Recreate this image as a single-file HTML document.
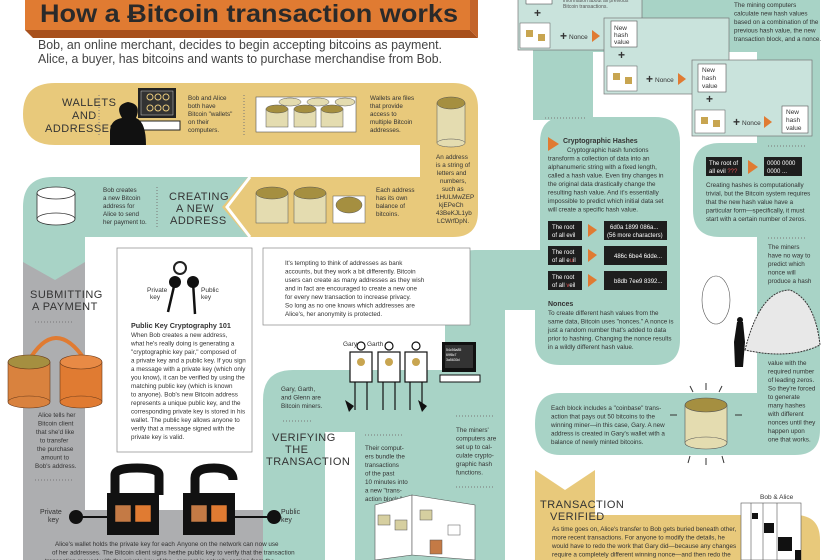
<!DOCTYPE html>
<html><head><meta charset="utf-8"><style>
html,body{margin:0;padding:0;background:#fff}
svg{display:block}
text{font-family:"Liberation Sans",sans-serif;fill:#333}
.s{font-size:6.3px}
.h{font-family:"Liberation Sans Narrow","Liberation Sans",sans-serif;font-size:11px;fill:#333;letter-spacing:0.5px}
.b{font-weight:bold}
.w{fill:#fff}
</style></head><body>
<svg width="840" height="560" viewBox="0 0 840 560" xmlns="http://www.w3.org/2000/svg">
<!-- Title -->
<rect x="25" y="-5" width="445" height="35" fill="#e07b32"/>
<polygon points="25,30 470,30 478,38 33,38" fill="#a8501c"/>
<polygon points="470,-5 478,0 478,38 470,30" fill="#c3642a"/>
<text x="40" y="22" font-size="25" font-weight="bold" textLength="418" lengthAdjust="spacingAndGlyphs" style="fill:#2a2a2a">How a Ƀitcoin transaction works</text>
<text x="38" y="49" font-size="13" textLength="404" lengthAdjust="spacingAndGlyphs" style="fill:#444">Bob, an online merchant, decides to begin accepting bitcoins as payment.</text>
<text x="38" y="63" font-size="13" textLength="404" lengthAdjust="spacingAndGlyphs" style="fill:#444">Alice, a buyer, has bitcoins and wants to purchase merchandise from Bob.</text>

<!-- Grey path -->
<rect x="23" y="237" width="62" height="323" fill="#adaeb0"/>
<path d="M23,510 H270 V495 L297,478 L325,495 V560 H23Z" fill="#adaeb0"/>
<!-- Teal creating -->
<path d="M53,177 H250 L227,207 L250,237 H85 V262 L55,280 L23,262 V207 Q23,177 53,177Z" fill="#a8d3c6"/>
<!-- Gold wallets -->
<path d="M55,83 H453 Q478,83 478,108 V212 Q478,237 453,237 H248 L222,207 L248,177 H420 V145 H55 Q23,145 23,114 Q23,83 55,83Z" fill="#e8c97b"/>
<polyline points="250,177 227,207 250,237" fill="none" stroke="#fff" stroke-width="3"/>

<!-- Teal big verifying/mining -->
<path d="M293,370 H445 V280 Q445,250 475,250 H540 V142 Q540,117 565,117 H655 Q680,117 680,142 V340 Q680,365 655,365 H560 Q535,365 535,340 V310 H505 V560 H355 V432 H325 V560 H263 V400 Q263,370 293,370Z" fill="#a8d3c6"/>
<rect x="533" y="0" width="60" height="120" fill="#a8d3c6"/>
<rect x="533" y="0" width="287" height="52" fill="#a8d3c6"/>
<path d="M757,0 H795 Q820,0 820,25 V430 Q820,455 795,455 H560 Q535,455 535,424 Q535,393 560,393 H757Z" fill="#a8d3c6"/>
<path d="M720,143 H757 V237 H720 Q693,237 693,210 V170 Q693,143 720,143Z" fill="#a8d3c6"/>
<!-- Gold verified -->
<path d="M535,470 L565,490 L595,470 V515 H795 Q820,515 820,540 V560 H535Z" fill="#e8c97b"/>
<polygon points="535,455 565,478 595,455 595,462 565,484 535,462" fill="#fff"/>

<!-- Wallet section -->
<text x="62" y="106" class="h">WALLETS</text>
<text x="72" y="119" class="h">AND</text>
<text x="45" y="132" class="h">ADDRESSES</text>
<line x1="99" y1="95" x2="99" y2="135" stroke="#777" stroke-dasharray="1,2"/>
<rect x="138" y="88" width="38" height="30" fill="#222"/><rect x="141" y="91" width="32" height="24" fill="#333" stroke="#ccc" stroke-width=".5"/>
<circle cx="150" cy="97" r="3" fill="none" stroke="#e8c97b"/><circle cx="158" cy="97" r="3" fill="none" stroke="#e8c97b"/><circle cx="166" cy="97" r="3" fill="none" stroke="#e8c97b"/>
<circle cx="150" cy="108" r="3" fill="none" stroke="#e8c97b"/><circle cx="158" cy="108" r="3" fill="none" stroke="#e8c97b"/><circle cx="166" cy="108" r="3" fill="none" stroke="#e8c97b"/>
<rect x="140" y="121" width="40" height="9" fill="#fff" stroke="#222"/>
<path d="M110,145 V132 Q110,120 122,118 Q114,105 128,102 Q142,104 136,118 Q146,122 146,145Z" fill="#111"/>
<text class="s" x="188" y="100">Bob and Alice</text><text class="s" x="188" y="108">both have</text><text class="s" x="188" y="116">Bitcoin "wallets"</text><text class="s" x="188" y="124">on their</text><text class="s" x="188" y="132">computers.</text>
<line x1="244" y1="95" x2="244" y2="135" stroke="#777" stroke-dasharray="1,2"/>
<rect x="256" y="97" width="100" height="35" fill="#fff" stroke="#555" stroke-width=".6"/>
<g fill="#e4dcb0" stroke="#555" stroke-width=".5">
<ellipse cx="290" cy="102" rx="11" ry="4"/><ellipse cx="318" cy="102" rx="11" ry="4"/><ellipse cx="345" cy="102" rx="10" ry="4"/>
<rect x="266" y="109" width="22" height="18"/><rect x="294" y="109" width="22" height="18"/><rect x="321" y="109" width="22" height="18"/>
<ellipse cx="277" cy="109" rx="11" ry="4" fill="#a58f40"/><ellipse cx="305" cy="109" rx="11" ry="4" fill="#a58f40"/><ellipse cx="332" cy="109" rx="11" ry="4" fill="#a58f40"/>
</g>
<text class="s" x="370" y="100">Wallets are files</text><text class="s" x="370" y="108">that provide</text><text class="s" x="370" y="116">access to</text><text class="s" x="370" y="124">multiple Bitcoin</text><text class="s" x="370" y="132">addresses.</text>
<g stroke="#555" stroke-width=".5"><rect x="437" y="103" width="28" height="40" fill="#e4dcb0"/><ellipse cx="451" cy="143" rx="14" ry="4" fill="#e4dcb0"/><ellipse cx="451" cy="103" rx="14" ry="6" fill="#a58f40"/></g>
<text class="s" x="436" y="159">An address</text><text class="s" x="436" y="167">is a string of</text><text class="s" x="437" y="175">letters and</text><text class="s" x="440" y="183">numbers,</text><text class="s" x="442" y="191">such as</text><text class="s" x="436" y="199">1HULMwZEP</text><text class="s" x="439" y="207">kjEPeCh</text><text class="s" x="436" y="215">43BeKJL1yb</text><text class="s" x="437" y="223">LCWrfDpN.</text>
<g fill="#e4dcb0" stroke="#555" stroke-width=".5">
<rect x="256" y="193" width="32" height="30"/><ellipse cx="272" cy="193" rx="16" ry="6" fill="#a58f40"/>
<rect x="294" y="193" width="32" height="30"/><ellipse cx="310" cy="193" rx="16" ry="6" fill="#a58f40"/>
<rect x="333" y="196" width="32" height="27" fill="#fff"/><ellipse cx="349" cy="205" rx="13" ry="8" fill="#a58f40"/></g>
<text class="s" x="376" y="192">Each address</text><text class="s" x="376" y="200">has its own</text><text class="s" x="376" y="208">balance of</text><text class="s" x="376" y="216">bitcoins.</text>
<!-- creating -->
<g stroke="#333" stroke-width=".8" fill="#fff"><rect x="37" y="193" width="38" height="26"/><ellipse cx="56" cy="193" rx="19" ry="6"/><ellipse cx="56" cy="219" rx="19" ry="6"/></g>
<text class="s" x="103" y="192">Bob creates</text><text class="s" x="103" y="200">a new Bitcoin</text><text class="s" x="103" y="208">address for</text><text class="s" x="103" y="216">Alice to send</text><text class="s" x="103" y="224">her payment to.</text>
<line x1="157" y1="187" x2="157" y2="227" stroke="#777" stroke-dasharray="1,2"/>
<text x="169" y="200" class="h">CREATING</text><text x="176" y="212" class="h">A NEW</text><text x="170" y="224" class="h">ADDRESS</text>

<!-- Public key box -->
<rect x="117" y="248" width="135" height="204" fill="#fff" stroke="#888" stroke-width=".7"/>
<circle cx="180" cy="268" r="6" fill="none" stroke="#222" stroke-width="2"/>
<circle cx="175" cy="282" r="6" fill="#111"/><circle cx="193" cy="282" r="6" fill="#111"/>
<line x1="175" y1="282" x2="168" y2="312" stroke="#111" stroke-width="2.5"/><line x1="193" y1="282" x2="195" y2="314" stroke="#111" stroke-width="2.5"/>
<text x="147" y="292" font-size="6.5">Private</text><text x="150" y="299" font-size="6.5">key</text>
<text x="201" y="292" font-size="6.5">Public</text><text x="201" y="299" font-size="6.5">key</text>
<text x="131" y="328" font-size="7.2" class="b">Public Key Cryptography 101</text>
<g class="s"><text x="131" y="337">When Bob creates a new address,</text><text x="131" y="345.5">what he's really doing is generating a</text><text x="131" y="354">"cryptographic key pair," composed of</text><text x="131" y="362.5">a private key and a public key. If you sign</text><text x="131" y="371">a message with a private key (which only</text><text x="131" y="379.5">you know), it can be verified by using the</text><text x="131" y="388">matching public key (which is known</text><text x="131" y="396.5">to anyone). Bob's new Bitcoin address</text><text x="131" y="405">represents a unique public key, and the</text><text x="131" y="413.5">corresponding private key is stored in his</text><text x="131" y="422">wallet. The public key allows anyone to</text><text x="131" y="430.5">verify that a message signed with the</text><text x="131" y="439">private key is valid.</text></g>
<!-- tempting box -->
<rect x="263" y="248" width="207" height="77" fill="#fff" stroke="#888" stroke-width=".7"/>
<g class="s"><text x="285" y="265">It's tempting to think of addresses as bank</text><text x="285" y="273.5">accounts, but they work a bit differently. Bitcoin</text><text x="285" y="282">users can create as many addresses as they wish</text><text x="285" y="290.5">and in fact are encouraged to create a new one</text><text x="285" y="299">for every new transaction to increase privacy.</text><text x="285" y="307.5">So long as no one knows which addresses are</text><text x="285" y="316">Alice's, her anonymity is protected.</text></g>

<!-- submitting -->
<text x="30" y="298" class="h">SUBMITTING</text><text x="32" y="310" class="h">A PAYMENT</text>
<line x1="35" y1="322" x2="73" y2="322" stroke="#777" stroke-dasharray="1,2"/>
<path d="M28,362 Q55,315 85,360" fill="none" stroke="#e07b32" stroke-width="4"/>
<g stroke="#6a3a1a" stroke-width=".6"><rect x="8" y="362" width="42" height="40" fill="#d9823e"/><ellipse cx="29" cy="402" rx="21" ry="6" fill="#d9823e"/><ellipse cx="29" cy="362" rx="21" ry="7" fill="#a58f40"/>
<rect x="60" y="362" width="42" height="40" fill="#e07b32"/><ellipse cx="81" cy="402" rx="21" ry="6" fill="#e07b32"/><ellipse cx="81" cy="362" rx="21" ry="7" fill="#e88a45"/></g>
<g class="s"><text x="38" y="417">Alice tells her</text><text x="38" y="425.5">Bitcoin client</text><text x="36" y="434">that she'd like</text><text x="40" y="442.5">to transfer</text><text x="37" y="451">the purchase</text><text x="41" y="459.5">amount to</text><text x="35" y="468">Bob's address.</text></g>
<line x1="35" y1="480" x2="73" y2="480" stroke="#777" stroke-dasharray="1,2"/>
<!-- locks -->
<path d="M115,495 V475 Q115,468 137,468 Q159,468 159,475 V495" fill="none" stroke="#111" stroke-width="9"/>
<rect x="107" y="493" width="52" height="42" fill="#111"/>
<path d="M195,495 V478 Q195,468 214,468 Q233,468 233,480" fill="none" stroke="#111" stroke-width="9"/>
<rect x="183" y="493" width="52" height="42" fill="#111"/>
<g stroke="#111" stroke-width=".5"><rect x="115" y="505" width="16" height="17" fill="#c47a45"/><rect x="135" y="505" width="16" height="17" fill="#e07b32"/><rect x="191" y="505" width="16" height="17" fill="#c47a45"/><rect x="211" y="505" width="16" height="17" fill="#e07b32"/></g>
<text x="40" y="514" font-size="7">Private</text><text x="48" y="522" font-size="7">key</text>
<circle cx="76" cy="517" r="7" fill="#111"/><line x1="76" y1="517" x2="107" y2="517" stroke="#111" stroke-width="2"/>
<circle cx="274" cy="517" r="7" fill="#111"/><line x1="235" y1="517" x2="274" y2="517" stroke="#111" stroke-width="2"/>
<text x="281" y="514" font-size="7">Public</text><text x="281" y="522" font-size="7">key</text>
<g class="s"><text x="55" y="546">Alice's wallet holds the private key for each</text><text x="52" y="554.5">of her addresses. The Bitcoin client signs her</text><text x="45" y="563">transaction request with the private key of the</text>
<text x="177" y="546">Anyone on the network can now use</text><text x="177" y="554.5">the public key to verify that the transaction</text><text x="177" y="563">request is actually coming from the</text></g>

<!-- verifying -->
<g class="s"><text x="281" y="391">Gary, Garth,</text><text x="281" y="399.5">and Glenn are</text><text x="281" y="408">Bitcoin miners.</text></g>
<line x1="283" y1="421" x2="313" y2="421" stroke="#777" stroke-dasharray="1,2"/>
<text x="272" y="441" class="h">VERIFYING</text><text x="285" y="453" class="h">THE</text><text x="266" y="465" class="h">TRANSACTION</text>
<g class="s"><text x="365" y="450">Their comput-</text><text x="365" y="458.5">ers bundle the</text><text x="365" y="467">transactions</text><text x="365" y="475.5">of the past</text><text x="365" y="484">10 minutes into</text><text x="365" y="492.5">a new "trans-</text><text x="365" y="501">action block."</text></g>
<line x1="365" y1="435" x2="402" y2="435" stroke="#777" stroke-dasharray="1,2"/>
<!-- miners -->
<g fill="#fff" stroke="#111" stroke-width="1.2">
<circle cx="361" cy="346" r="4"/><rect x="350" y="352" width="22" height="30"/><line x1="355" y1="382" x2="355" y2="410"/><line x1="367" y1="382" x2="367" y2="410"/>
<circle cx="389" cy="346" r="4"/><rect x="378" y="352" width="22" height="30"/><line x1="383" y1="382" x2="383" y2="410"/><line x1="395" y1="382" x2="395" y2="410"/>
<circle cx="416" cy="346" r="4"/><rect x="405" y="352" width="22" height="30"/><line x1="410" y1="382" x2="410" y2="410"/><line x1="422" y1="382" x2="422" y2="410"/></g>
<circle cx="361" cy="362" r="4" fill="#c8a550"/><circle cx="389" cy="362" r="4" fill="#c8a550"/><circle cx="416" cy="362" r="4" fill="#c8a550"/>
<text x="343" y="346" font-size="6.5">Gary</text><text x="367" y="346" font-size="6.5">Garth</text>
<path d="M345,400 l4,12 l5,-6Z M418,400 l4,12 l5,-6Z" fill="#111"/>
<rect x="442" y="342" width="34" height="30" fill="#111"/><rect x="445" y="345" width="28" height="23" fill="#333"/>
<text x="446" y="351" font-size="3.5" class="w">54c56a85</text><text x="446" y="356" font-size="3.5" class="w">69f8c7</text><text x="446" y="361" font-size="3.5" class="w">3a5630d</text>
<rect x="440" y="375" width="40" height="7" fill="#fff" stroke="#111"/>
<g class="s"><text x="456" y="432">The miners'</text><text x="456" y="440.5">computers are</text><text x="456" y="449">set up to cal-</text><text x="456" y="457.5">culate crypto-</text><text x="456" y="466">graphic hash</text><text x="456" y="474.5">functions.</text></g>
<line x1="456" y1="416" x2="495" y2="416" stroke="#777" stroke-dasharray="1,2"/>
<line x1="456" y1="487" x2="495" y2="487" stroke="#777" stroke-dasharray="1,2"/>
<g fill="#fff" stroke="#555" stroke-width=".6"><polygon points="375,505 412,495 412,555 375,560"/><polygon points="412,495 475,505 475,560 412,555"/></g>
<g stroke="#555" stroke-width=".5"><rect x="378" y="515" width="12" height="10" fill="#d6cfa0"/><rect x="395" y="520" width="12" height="10" fill="#d6cfa0"/><rect x="420" y="510" width="12" height="10" fill="#d6cfa0"/><rect x="430" y="540" width="12" height="14" fill="#c47a45"/><rect x="448" y="525" width="12" height="10" fill="#fff"/></g>

<!-- hash steps -->
<g fill="#c9e3dc" stroke="#777" stroke-width=".7">
<rect x="518" y="-2" width="124" height="52"/><rect x="604" y="18" width="125" height="76"/><rect x="692" y="60" width="120" height="76"/></g>
<rect x="526" y="-2" width="26" height="6" fill="#fff" stroke="#333" stroke-width=".5"/>
<text x="563" y="2" font-size="5" style="fill:#555">information about all previous</text><text x="563" y="8" font-size="5" style="fill:#555">Bitcoin transactions.</text>
<text x="534" y="17" font-size="12" class="b">+</text>
<g stroke="#555" stroke-width=".5" fill="#fff"><rect x="520" y="23" width="30" height="25"/><rect x="607" y="66" width="30" height="25"/><rect x="695" y="110" width="30" height="23"/></g>
<g fill="#c8a550"><rect x="526" y="30" width="7" height="7"/><rect x="538" y="34" width="7" height="7"/><rect x="613" y="73" width="7" height="7"/><rect x="625" y="77" width="7" height="7"/><rect x="701" y="117" width="7" height="7"/><rect x="713" y="120" width="7" height="7"/></g>
<text x="560" y="40" font-size="12" class="b">+</text><text x="569" y="39" font-size="6.5">Nonce</text><polygon points="592,30 600,36 592,42" fill="#e07b32"/>
<text x="646" y="83" font-size="12" class="b">+</text><text x="655" y="82" font-size="6.5">Nonce</text><polygon points="678,73 686,79 678,85" fill="#e07b32"/>
<text x="733" y="126" font-size="12" class="b">+</text><text x="742" y="125" font-size="6.5">Nonce</text><polygon points="764,116 772,122 764,128" fill="#e07b32"/>
<text x="618" y="59" font-size="12" class="b">+</text><text x="706" y="103" font-size="12" class="b">+</text>
<g fill="#fff" stroke="#555" stroke-width=".6"><rect x="611" y="21" width="26" height="26"/><rect x="698" y="64" width="28" height="28"/><rect x="782" y="106" width="26" height="27"/></g>
<g font-size="6.5"><text x="614" y="30">New</text><text x="614" y="37">hash</text><text x="614" y="44">value</text><text x="702" y="72">New</text><text x="702" y="80">hash</text><text x="702" y="88">value</text><text x="786" y="114">New</text><text x="786" y="122">hash</text><text x="786" y="130">value</text></g>
<g class="s"><text x="734" y="7">The mining computers</text><text x="734" y="15.5">calculate new hash values</text><text x="734" y="24">based on a combination of the</text><text x="734" y="32.5">previous hash value, the new</text><text x="734" y="41">transaction block, and a nonce.</text></g>

<!-- crypto hashes -->
<line x1="545" y1="118" x2="585" y2="118" stroke="#777" stroke-dasharray="1,2"/>
<polygon points="548,137 559,144 548,151" fill="#e07b32"/>
<text x="563" y="143" font-size="7" class="b">Cryptographic Hashes</text>
<g class="s"><text x="567" y="152">Cryptographic hash functions</text><text x="548" y="160.5">transform a collection of data into an</text><text x="548" y="169">alphanumeric string with a fixed length,</text><text x="548" y="177.5">called a hash value. Even tiny changes in</text><text x="548" y="186">the original data drastically change the</text><text x="548" y="194.5">resulting hash value. And it's essentially</text><text x="548" y="203">impossible to predict which initial data set</text><text x="548" y="211.5">will create a specific hash value.</text></g>
<g fill="#1e1e1e"><rect x="548" y="221" width="34" height="19"/><rect x="548" y="246" width="34" height="19"/><rect x="548" y="271" width="34" height="19"/>
<rect x="604" y="221" width="63" height="19"/><rect x="604" y="246" width="63" height="19"/><rect x="604" y="271" width="63" height="19"/></g>
<g font-size="6"><text x="552" y="229" class="w">The root</text><text x="552" y="237" class="w">of all evil</text><text x="552" y="254" class="w">The root</text><text x="552" y="262" class="w">of all e<tspan style="fill:#e05050">u</tspan>il</text><text x="552" y="279" class="w">The root</text><text x="552" y="287" class="w">of all <tspan style="fill:#e05050">v</tspan>eil</text>
<text x="610" y="229" class="w">6d0a 1899 086a...</text><text x="607" y="237" class="w">(56 more characters)</text><text x="614" y="258" class="w">486c 6be4 6dde...</text><text x="614" y="283" class="w">b8db 7ee9 8392...</text></g>
<g fill="#e07b32"><polygon points="588,224 597,230 588,237"/><polygon points="588,249 597,255 588,262"/><polygon points="588,274 597,280 588,287"/></g>
<text x="548" y="306" font-size="7" class="b">Nonces</text>
<g class="s"><text x="548" y="315">To create different hash values from the</text><text x="548" y="323.5">same data, Bitcoin uses "nonces." A nonce is</text><text x="548" y="332">just a random number that's added to data</text><text x="548" y="340.5">prior to hashing. Changing the nonce results</text><text x="548" y="349">in a wildly different hash value.</text></g>

<!-- right column -->
<line x1="768" y1="146" x2="806" y2="146" stroke="#777" stroke-dasharray="1,2"/>
<rect x="706" y="157" width="36" height="19" fill="#1e1e1e"/><text x="709" y="165" font-size="6" class="w">The root of</text><text x="709" y="173" font-size="6" class="w">all evil <tspan style="fill:#e05050">???</tspan></text>
<polygon points="748,160 758,167 748,174" fill="#e07b32"/>
<rect x="764" y="157" width="38" height="19" fill="#1e1e1e"/><text x="767" y="165" font-size="6" class="w">0000 0000</text><text x="767" y="173" font-size="6" class="w">0000 ...</text>
<g class="s"><text x="706" y="187">Creating hashes is computationally</text><text x="706" y="195.5">trivial, but the Bitcoin system requires</text><text x="706" y="204">that the new hash value have a</text><text x="706" y="212.5">particular form—specifically, it must</text><text x="706" y="221">start with a certain number of zeros.</text></g>
<line x1="768" y1="238" x2="806" y2="238" stroke="#777" stroke-dasharray="1,2"/>
<g class="s"><text x="768" y="249">The miners</text><text x="768" y="257.5">have no way to</text><text x="768" y="266">predict which</text><text x="768" y="274.5">nonce will</text><text x="768" y="283">produce a hash</text>
<text x="768" y="365">value with the</text><text x="768" y="373.5">required number</text><text x="768" y="382">of leading zeros.</text><text x="768" y="390.5">So they're forced</text><text x="768" y="399">to generate</text><text x="768" y="407.5">many hashes</text><text x="768" y="416">with different</text><text x="768" y="424.5">nonces until they</text><text x="768" y="433">happen upon</text><text x="768" y="441.5">one that works.</text></g>
<ellipse cx="716" cy="300" rx="14" ry="24" fill="#fff" stroke="#555" stroke-width=".6"/>
<path d="M745,350 Q760,290 790,290 Q815,300 820,345 Q790,360 745,350Z" fill="#e8e8e8" stroke="#333" stroke-dasharray="2,1"/>
<path d="M737,322 l6,0 l2,20 l-2,25 l-8,0 l-1,-25Z" fill="#111"/><circle cx="740" cy="320" r="3" fill="#111"/>
<!-- coinbase -->
<g class="s"><text x="551" y="410">Each block includes a "coinbase" trans-</text><text x="551" y="418.5">action that pays out 50 bitcoins to the</text><text x="551" y="427">winning miner—in this case, Gary. A new</text><text x="551" y="435.5">address is created in Gary's wallet with a</text><text x="551" y="444">balance of newly minted bitcoins.</text></g>
<g stroke="#555" stroke-width=".6"><rect x="685" y="405" width="42" height="38" fill="#e4dcb0"/><ellipse cx="706" cy="443" rx="21" ry="6" fill="#e4dcb0"/><ellipse cx="706" cy="405" rx="21" ry="7" fill="#a58f40"/></g>
<g stroke="#333" stroke-width="1"><line x1="706" y1="383" x2="706" y2="390"/><line x1="690" y1="386" x2="693" y2="392"/><line x1="722" y1="386" x2="719" y2="392"/><line x1="670" y1="415" x2="677" y2="415"/><line x1="735" y1="415" x2="742" y2="415"/><line x1="706" y1="458" x2="706" y2="465"/><line x1="690" y1="456" x2="688" y2="463"/><line x1="722" y1="456" x2="724" y2="463"/></g>
<!-- verified -->
<text x="540" y="508" class="h">TRANSACTION</text><text x="550" y="520" class="h">VERIFIED</text>
<g class="s"><text x="552" y="531">As time goes on, Alice's transfer to Bob gets buried beneath other,</text><text x="552" y="539.5">more recent transactions. For anyone to modify the details, he</text><text x="552" y="548">would have to redo the work that Gary did—because any changes</text><text x="552" y="556.5">require a completely different winning nonce—and then redo the</text></g>
<rect x="741" y="503" width="60" height="57" fill="#fff" stroke="#555" stroke-width=".6"/>
<g stroke="#555" stroke-width=".6"><line x1="751" y1="503" x2="751" y2="560"/><line x1="763" y1="503" x2="763" y2="560"/><line x1="777" y1="503" x2="777" y2="560"/></g>
<text x="760" y="499" font-size="6.5">Bob &amp; Alice</text>
<g fill="#111"><rect x="752" y="513" width="6" height="6"/><rect x="764" y="523" width="10" height="10"/><rect x="778" y="537" width="14" height="14"/><rect x="795" y="550" width="6" height="10"/></g>
</svg>
</body></html>
